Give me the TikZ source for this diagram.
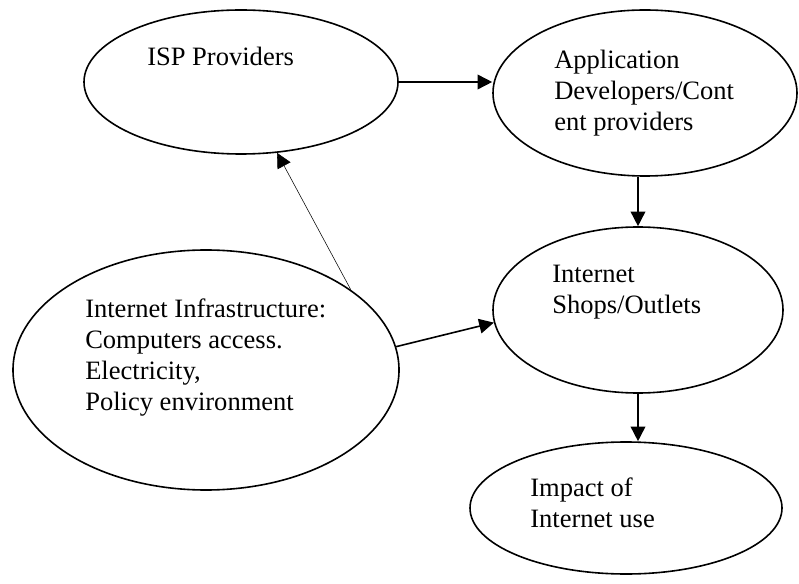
\documentclass[tikz,border=0pt]{standalone}
\usepackage{fontspec}
\setmainfont{Liberation Serif}
\usepackage{tikz}
\usetikzlibrary{shapes.geometric, arrows.meta, positioning, calc}

\begin{document}
\begin{tikzpicture}[x=0.75pt, y=-0.75pt,
    bubble/.style={draw, ellipse, line width=1.2pt, inner sep=0pt},
    txt/.style={anchor=north west, inner sep=0pt, align=left, font=\fontsize{19.9}{23.2}\selectfont},
    arr/.style={-{Triangle[length=11pt, width=11pt]}, line width=1.2pt}]
  \useasboundingbox (0,0) rectangle (799,584);

  % Ellipses
  \node[bubble, minimum width=235.5pt, minimum height=108pt] (isp) at (241,82) {};
  \node[bubble, minimum width=228pt, minimum height=124.5pt] (app) at (645,93) {};
  \node[bubble, minimum width=217.5pt, minimum height=124.5pt] (shops) at (638,310) {};
  \node[bubble, minimum width=289.5pt, minimum height=180pt] (infra) at (206,370) {};
  \node[bubble, minimum width=234pt, minimum height=99pt] (impact) at (626,508) {};

  % Texts inside
  \node[txt] (isptext) at (147,47) {ISP Providers};
  \node[txt] (apptext) at (554,50) {Application\\Developers/Cont\\ent providers};
  \node[txt] (shopstext) at (552,265) {Internet\\Shops/Outlets};
  \node[txt] (infratext) at (85,299) {Internet Infrastructure:\\Computers access.\\Electricity,\\Policy environment};
  \node[txt] (impacttext) at (530,478) {Impact of\\Internet use};

  % Arrows
  \draw[arr] (isp.east) -- (isp.east -| app.west);
  \draw[arr] (app.south -| shops.north) -- (shops.north);
  \draw[arr] (shops.south) -- (shops.south |- impact.north);
  \draw[arr] (infra.7) -- (shops.185);
  \draw[arr, line width=0.4pt] (infra.29) -- (isp.297);
\end{tikzpicture}
\end{document}
